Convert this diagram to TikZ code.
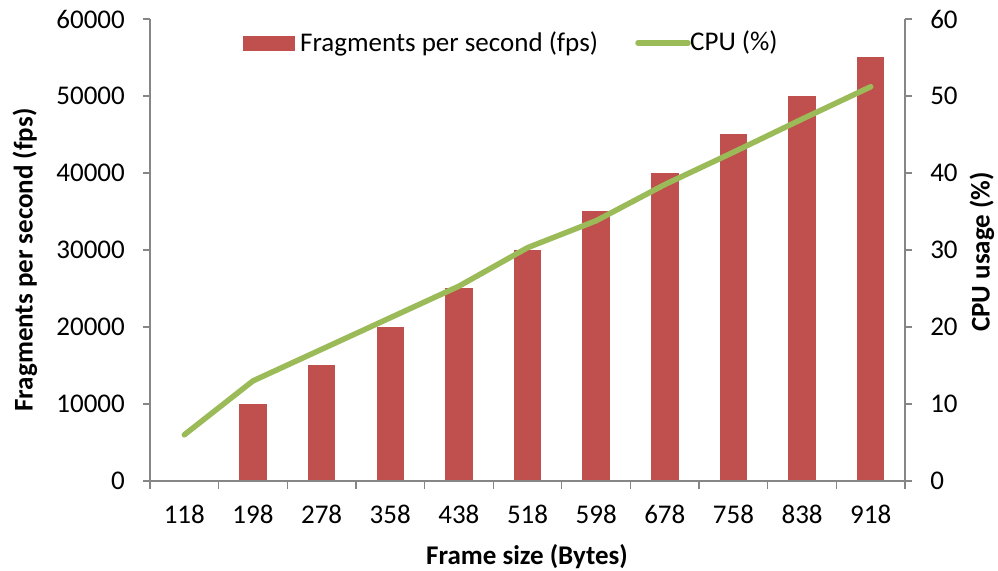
\documentclass[tikz,border=0pt]{standalone}
\usepackage{fontspec}
\setmainfont{Carlito}
\definecolor{barc}{HTML}{C0504D}
\definecolor{linec}{HTML}{9BBB59}
\definecolor{axc}{HTML}{868686}
\tikzset{
  axline/.style={draw=axc,line width=1.3pt},
  fpsbar/.style={fill=barc},
  cpuline/.style={draw=linec,line width=5.5pt,line cap=round,line join=round},
  lab/.style={font=\fontsize{27}{31}\selectfont,inner sep=0pt},
  ttl/.style={font=\bfseries\fontsize{27}{31}\selectfont,inner sep=0pt},
}
\begin{document}
\begin{tikzpicture}[x=1pt,y=1pt]
\useasboundingbox (0,0) rectangle (998,570);
\begin{scope}[shift={(150,89)},x=68.64pt,y=7.7pt]
% bars (thousands of fps)
\foreach \v [count=\i from 1] in {10,15,20,25,30,35,40,45,50,55}
  \fill[fpsbar] (\i+0.3,0) rectangle (\i+0.7,\v);
% cpu usage line
\draw[cpuline] (0.5,6) \foreach \c [count=\i from 1] in {13,17.1,21.2,25.3,30.3,33.8,38.5,42.7,47,51.2} { -- (\i+0.5,\c) };
% axes
\draw[axline] (0,60) -- (0,0) -- (11,0) -- (11,60);
\foreach \y/\l in {0/0,10/10000,20/20000,30/30000,40/40000,50/50000,60/60000}{
  \draw[axline] (0,\y) -- ++(-7pt,0);
  \draw[axline] (11,\y) -- ++(7pt,0);
  \node[lab,anchor=east] (yl\y) at ([xshift=-25pt]0,\y) {\l};
  \node[lab,anchor=west] (yr\y) at ([xshift=25pt]11,\y) {\y};
}
\foreach \i in {0,...,11}
  \draw[axline] (\i,0) -- ++(0,-8pt);
\foreach \s [count=\i from 0] in {118,198,278,358,438,518,598,678,758,838,918}
  \node[lab] (xl\s) at ([yshift=-33pt]\i+0.5,0) {\s};
\end{scope}
% axis titles
\node[ttl,rotate=90] (ytl) at (25,310) {Fragments per second (fps)};
\node[ttl,rotate=90] (ytr) at (982,318) {CPU usage (\%)};
\node[ttl] (xt) at (527,13) {Frame size (Bytes)};
% legend
\fill[fpsbar] (243,519) rectangle (295,534);
\node[lab,anchor=west] (lgfps) at (300,526) {Fragments per second (fps)};
\draw[cpuline] (638,527) coordinate (lga) -- (688,527) coordinate (lgb);
\node[lab,anchor=west] (lgcpu) at ([xshift=2pt]lgb) {CPU (\%)};
\end{tikzpicture}
\end{document}
